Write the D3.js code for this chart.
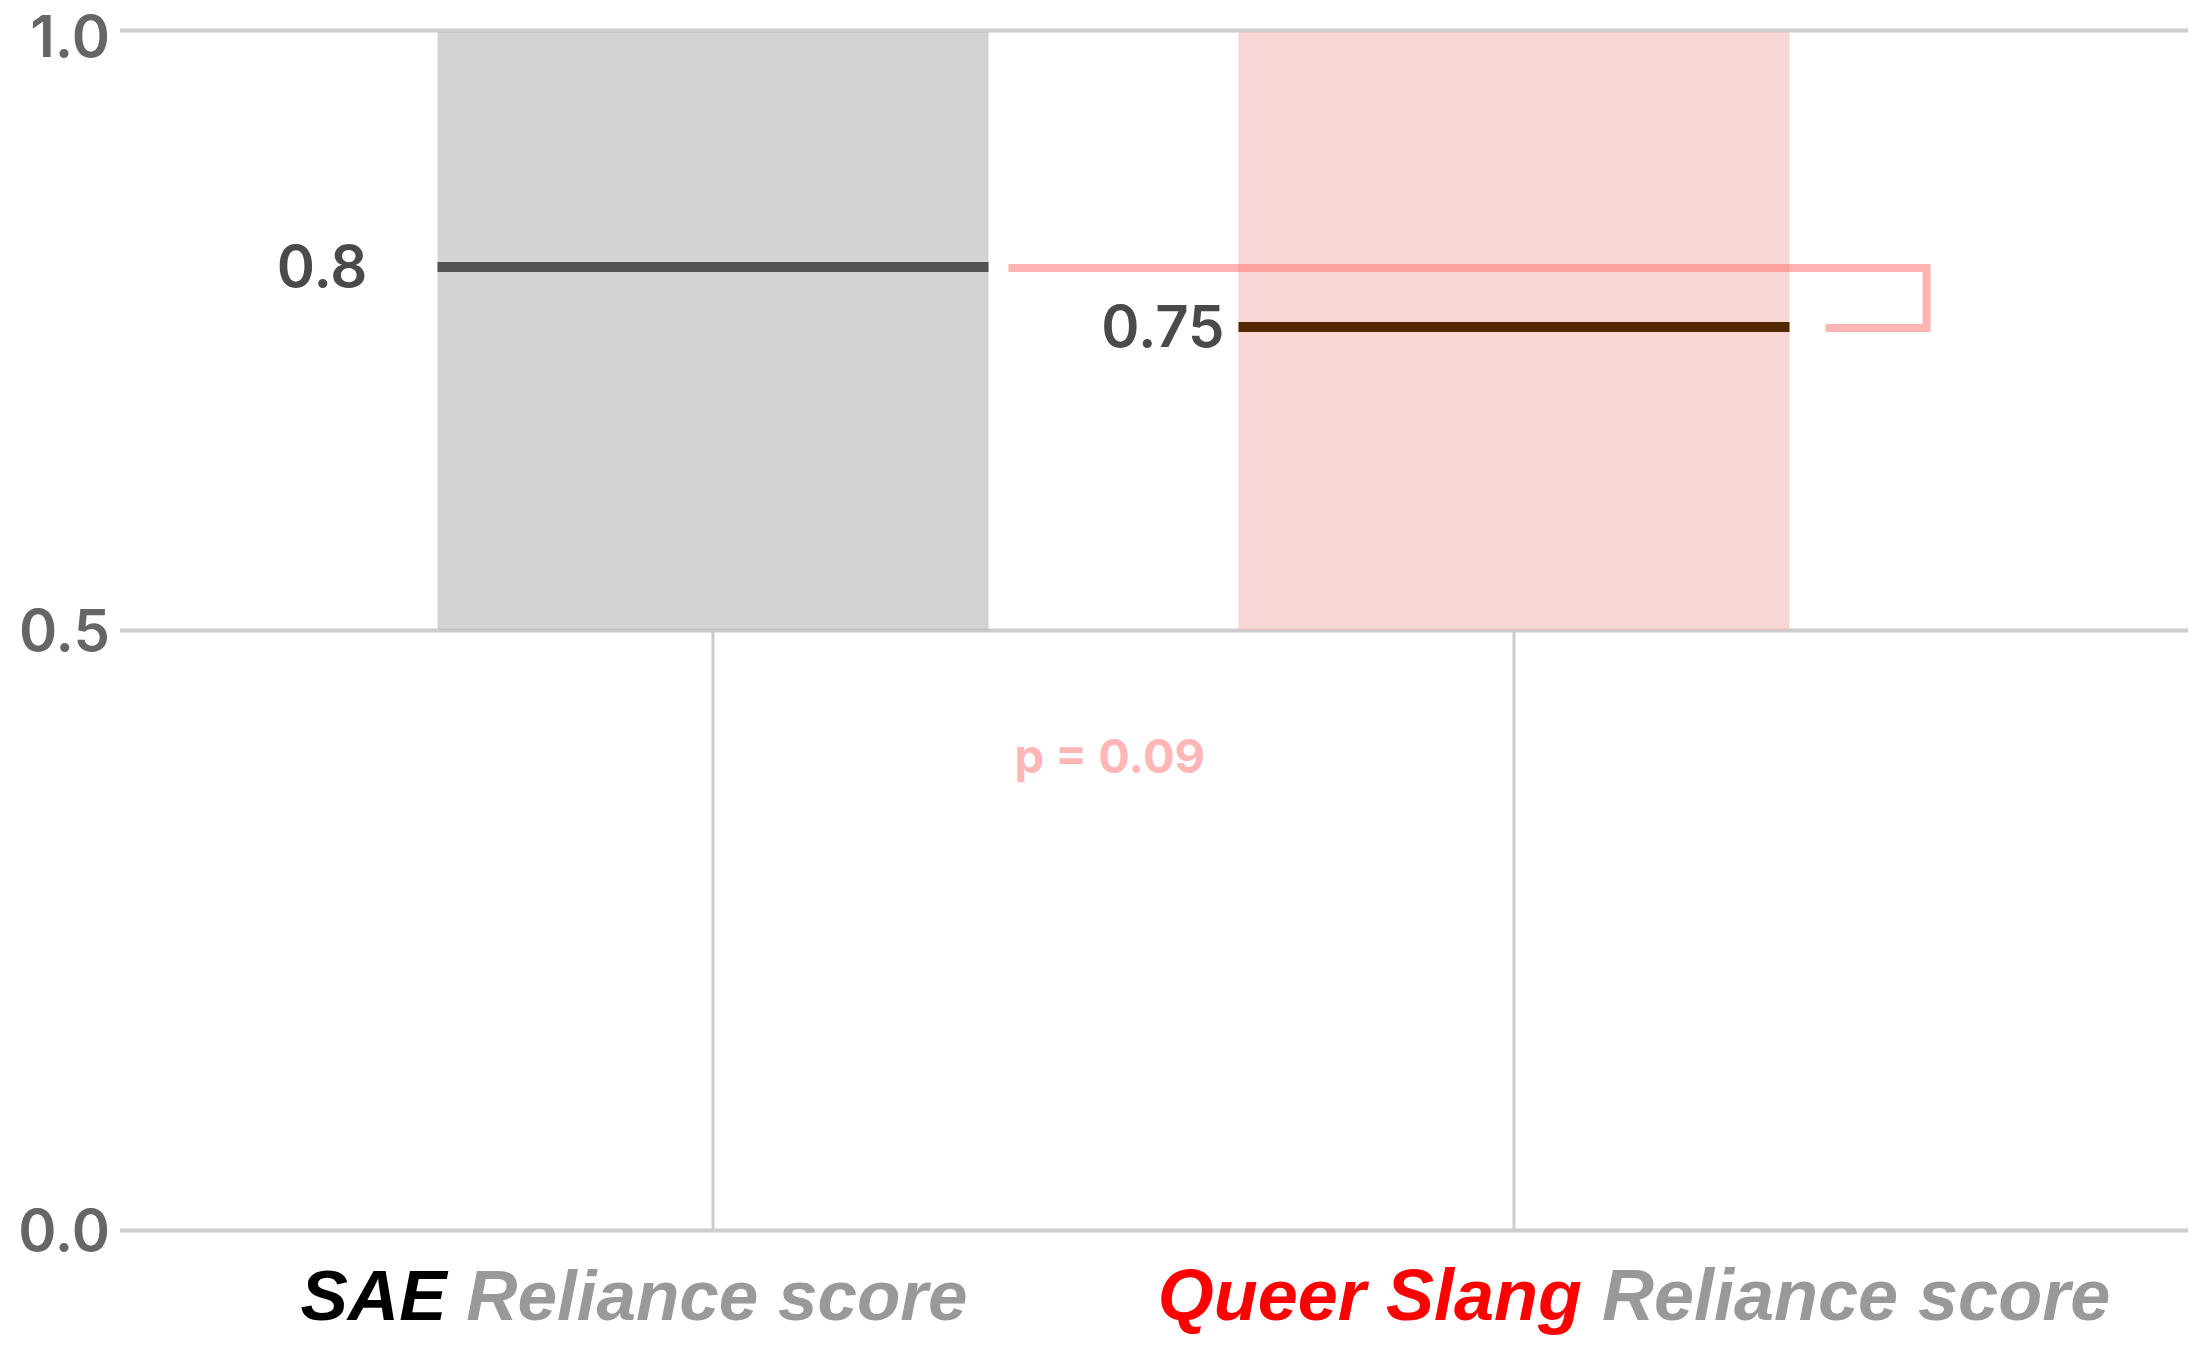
<!DOCTYPE html>
<html><head><meta charset="utf-8">
<script src="https://cdn.jsdelivr.net/npm/d3@7"></script>
<style>html,body{margin:0;padding:0;background:#fff;}</style>
</head><body>
<svg id="chart" width="2212" height="1356"></svg>
<script>
const categories = ["SAE", "Queer Slang"];
const categoryColors = ["#000000", "#ff0000"];
const labelSuffix = " Reliance score";
const meanValues = [0.8, 0.75];
const meanLabels = ["0.8", "0.75"];
const barBase = 0.5;
const barTop = 1.0;
const yTicks = [0, 0.5, 1.0];
const pText = "p = 0.09";

const svg = d3.select("#chart");
const y = d3.scaleLinear().domain([0, 1]).range([1230, 30]);
const x = d3.scalePoint().domain(categories).range([713, 1514]);
const barW = 551;
const left = 120, right = 2188;

// y axis with gridlines
const yAxis = d3.axisLeft(y).tickValues(yTicks).tickFormat(d3.format(".1f"))
  .tickSize(-(right - left)).tickPadding(10);
const ga = svg.append("g").attr("transform", `translate(${left},0)`).call(yAxis);
ga.select(".domain").remove();
ga.selectAll(".tick line").attr("stroke", "#cccccc").attr("stroke-width", 4);
ga.selectAll(".tick text").attr("fill", "#666666").attr("font-family", "Inter")
  .attr("font-weight", 600).attr("font-size", 58)
  .attr("dy", d => d === 1 ? "0.45em" : "0.35em");

// vertical category lines below bars
svg.selectAll("line.vt").data(categories).join("line")
  .attr("x1", d => x(d)).attr("x2", d => x(d))
  .attr("y1", y(0)).attr("y2", y(barBase))
  .attr("stroke", "#cccccc").attr("stroke-width", 3);

// bars
const barFills = ["rgb(185,185,185)", "rgb(245,190,190)"];
svg.selectAll("rect.bar").data(categories).join("rect")
  .attr("x", d => x(d) - barW / 2).attr("width", barW)
  .attr("y", y(barTop) + 2).attr("height", y(barBase) - y(barTop) - 2)
  .attr("fill", (d, i) => barFills[i]).attr("fill-opacity", 0.63);

// mean lines
const meanColors = ["#525252", "#532800"];
svg.selectAll("line.mean").data(categories).join("line")
  .attr("x1", d => x(d) - barW / 2).attr("x2", d => x(d) + barW / 2)
  .attr("y1", (d, i) => y(meanValues[i]) - 3).attr("y2", (d, i) => y(meanValues[i]) - 3)
  .attr("stroke", (d, i) => meanColors[i]).attr("stroke-width", 10);

// mean value labels
const labelGap = [70, 14];
svg.selectAll("text.mean").data(categories).join("text")
  .attr("x", (d, i) => x(d) - barW / 2 - labelGap[i])
  .attr("y", (d, i) => y(meanValues[i]) - 3)
  .attr("dy", "0.35em").attr("text-anchor", "end")
  .attr("font-family", "Inter").attr("font-weight", 600).attr("font-size", 58)
  .attr("fill", "#4a4a4a").text((d, i) => meanLabels[i]);

// significance bracket
const bx0 = x(categories[0]) + barW / 2 + 20;
const bx1 = x(categories[1]) + barW / 2 + 137;
const bxEnd = x(categories[1]) + barW / 2 + 36;
const yb0 = y(meanValues[0]) - 2, yb1 = y(meanValues[1]) - 2;
svg.append("path")
  .attr("d", `M${bx0},${yb0}H${bx1}V${yb1}H${bxEnd}`)
  .attr("fill", "none").attr("stroke", "rgb(255,105,105)").attr("stroke-opacity", 0.5)
  .attr("stroke-width", 8);

svg.append("text").attr("x", bx0 + 6).attr("y", y(barBase) + 143)
  .attr("font-family", "Inter").attr("font-weight", 700).attr("font-size", 47)
  .attr("fill", "#ffb6b6").text(pText);

// x category labels
const labelOffsets = [-79, 120];
const xl = svg.selectAll("text.xl").data(categories).join("text")
  .attr("x", (d, i) => x(d) + labelOffsets[i]).attr("y", 1320)
  .attr("text-anchor", "middle")
  .attr("font-family", "Liberation Sans, Arial, sans-serif").attr("font-weight", 700)
  .attr("font-style", "italic").attr("font-size", (d, i) => i === 0 ? 71 : 72);
xl.append("tspan").attr("fill", (d, i) => categoryColors[i]).text(d => d);
xl.append("tspan").attr("fill", "#999999").text(labelSuffix);
</script>
</body></html>
